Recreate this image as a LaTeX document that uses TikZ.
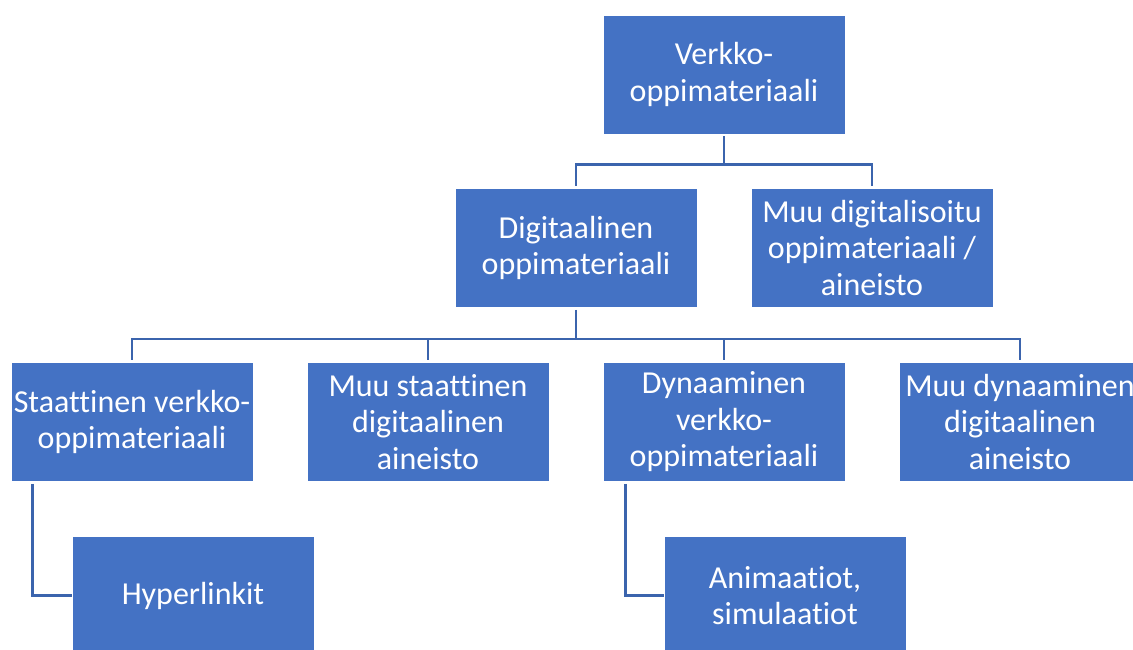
\documentclass[tikz,border=0pt]{standalone}
\usepackage{fontspec}
\setmainfont{Carlito}[Ligatures={NoCommon}]
\definecolor{boxblue}{HTML}{4472C4}
\definecolor{lineblue}{HTML}{3B64AD}
\begin{document}
\begin{tikzpicture}[x=1pt,y=-1pt,
  box/.style={fill=boxblue,draw=white,line width=0.8pt,minimum width=242pt,minimum height=119pt,
    inner sep=0pt,align=center,text=white,font=\fontsize{32}{36.5}\selectfont},
  conn/.style={draw=lineblue,line width=2.6pt}]
\useasboundingbox (0,0) rectangle (1133,650);
\clip (0,0) rectangle (1133,650);
\fill[white] (0,0) rectangle (1133,650);
\node[box] (top) at (724,74.5) {Verkko-\\oppimateriaali};
\node[box] (dig) at (576,248) {Digitaalinen\\oppimateriaali};
\node[box] (muu) at (872,248) {Muu digitalisoitu\\oppimateriaali /\\aineisto};
\node[box] (s1) at (132,422) {Staattinen verkko-\\oppimateriaali};
\node[box] (s2) at (428,422) {Muu staattinen\\digitaalinen\\aineisto};
\node[box] (s3) at (724,422) {Dynaaminen\\verkko-\\oppimateriaali};
\node[box] (s4) at (1020,422) {Muu dynaaminen\\digitaalinen\\aineisto};
\node[box] (hyp) at (193,595.5) {Hyperlinkit};
\node[box] (anim) at (785,595.5) {Animaatiot,\\simulaatiot};
\draw[conn] ([yshift=-2pt]top.south) -- ++(0,28) coordinate (j1);
\draw[conn] (j1) -| ([yshift=2pt]dig.north);
\draw[conn] (j1) -| ([yshift=2pt]muu.north);
\draw[conn] ([yshift=-2pt]dig.south) -- ++(0,29) coordinate (j2);
\draw[conn] (j2) -| ([yshift=2pt]s1.north);
\draw[conn] (j2) -| ([yshift=2pt]s2.north);
\draw[conn] (j2) -| ([yshift=2pt]s3.north);
\draw[conn] (j2) -| ([yshift=2pt]s4.north);
\draw[conn] ([xshift=22pt,yshift=-2pt]s1.south west) |- (hyp.west);
\draw[conn] ([xshift=23pt,yshift=-2pt]s3.south west) |- (anim.west);
\end{tikzpicture}
\end{document}
